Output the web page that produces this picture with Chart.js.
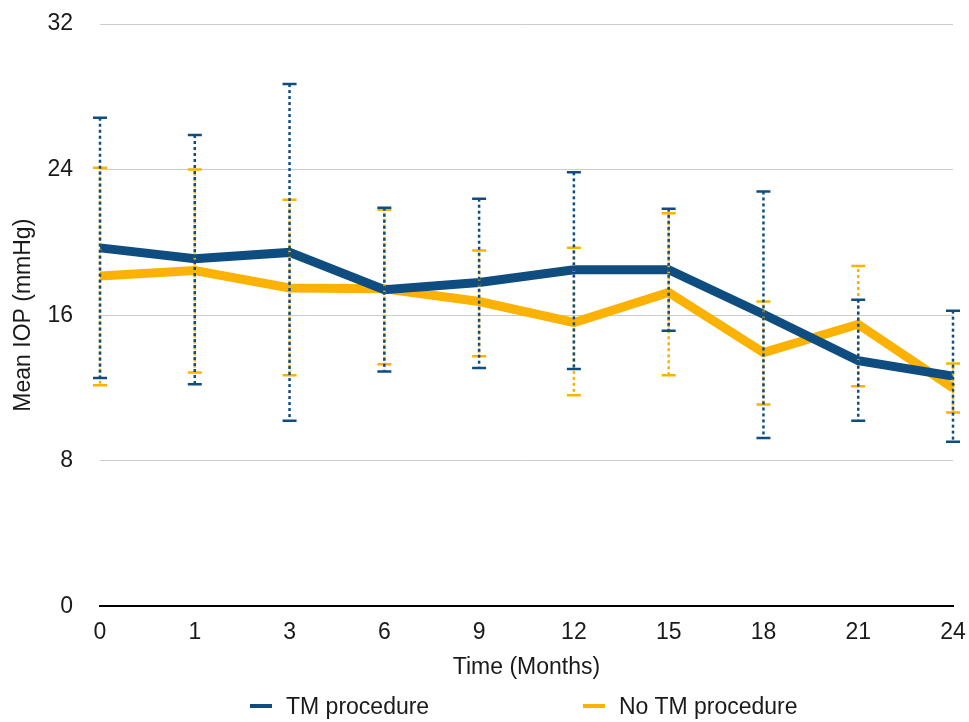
<!DOCTYPE html>
<html>
<head>
<meta charset="utf-8">
<script src="https://cdn.jsdelivr.net/npm/chart.js@4/dist/chart.umd.min.js"></script>
<style>
  body { margin: 0; background: #fff; }
  #wrap { position: relative; width: 969px; height: 722px; }
  #legend { position: absolute; left: 0; top: 692px; width: 969px; height: 28px;
    font-family: "Liberation Sans", Arial, sans-serif; font-size: 23px; color: #1a1a1a; }
  .item { position: absolute; top: 0; line-height: 28px; white-space: nowrap; }
  .swatch { position: absolute; top: 12px; width: 22px; height: 4px; }
</style>
</head>
<body>
<div id="wrap">
  <canvas id="chart"></canvas>
  <div id="legend"></div>
</div>
<script>
// months after baseline
const months = ['0', '1', '3', '6', '9', '12', '15', '18', '21', '24'];

// TM procedure: mean IOP and error bar ends (mmHg)
const tmMean = [19.7, 19.1, 19.45, 17.4, 17.8, 18.5, 18.5, 16.05, 13.5, 12.65];
const tmLow  = [12.55, 12.2, 10.2, 12.9, 13.1, 13.05, 15.15, 9.25, 10.2, 9.05];
const tmHigh = [26.85, 25.9, 28.7, 21.9, 22.4, 23.85, 21.85, 22.8, 16.85, 16.25];

// No TM procedure
const noTmMean = [18.15, 18.45, 17.5, 17.45, 16.75, 15.6, 17.25, 13.95, 15.5, 12.0];
const noTmLow  = [12.15, 12.85, 12.7, 13.3, 13.75, 11.6, 12.7, 11.1, 12.1, 10.65];
const noTmHigh = [24.1, 24.0, 22.35, 21.8, 19.55, 19.7, 21.6, 16.75, 18.7, 13.35];

const yTicks = [0, 8, 16, 24, 32];

const BLUE = '#0f4d81';
const ORANGE = '#fbb202';

Chart.defaults.font.family = '"Liberation Sans", Arial, sans-serif';
Chart.defaults.font.size = 23;
Chart.defaults.color = '#1a1a1a';

// dashed error bars with caps, drawn through the chart's own scales
const errorBars = {
  id: 'errorBars',
  afterDatasetsDraw(chart) {
    const { ctx, scales: { x, y } } = chart;
    const sets = [
      { lo: noTmLow, hi: noTmHigh, color: ORANGE, offset: 3 },
      { lo: tmLow, hi: tmHigh, color: BLUE, offset: 0 }
    ];
    ctx.save();
    sets.forEach(s => {
      ctx.strokeStyle = s.color;
      months.forEach((m, i) => {
        const px = x.getPixelForValue(i);
        const top = y.getPixelForValue(s.hi[i]);
        const bot = y.getPixelForValue(s.lo[i]);
        ctx.lineWidth = 2.5;
        ctx.setLineDash([3, 3]);
        ctx.lineDashOffset = s.offset;
        ctx.beginPath();
        ctx.moveTo(px, top);
        ctx.lineTo(px, bot);
        ctx.stroke();
        ctx.setLineDash([]);
        ctx.beginPath();
        ctx.moveTo(px - 7, top); ctx.lineTo(px + 7, top);
        ctx.moveTo(px - 7, bot); ctx.lineTo(px + 7, bot);
        ctx.stroke();
      });
    });
    ctx.restore();
  }
};

const chart = new Chart(document.getElementById('chart'), {
  type: 'line',
  data: {
    labels: months,
    datasets: [
      { label: 'TM procedure', data: tmMean, borderColor: BLUE, backgroundColor: BLUE,
        borderWidth: 9, pointRadius: 0, tension: 0 },
      { label: 'No TM procedure', data: noTmMean, borderColor: ORANGE, backgroundColor: ORANGE,
        borderWidth: 9, pointRadius: 0, tension: 0 }
    ]
  },
  options: {
    responsive: true,
    maintainAspectRatio: false,
    animation: false,
    layout: { padding: { top: 24, right: 16, bottom: 43, left: 0 } },
    plugins: { legend: { display: false }, tooltip: { enabled: false } },
    scales: {
      x: {
        offset: false,
        afterFit: s => { s.paddingLeft = 0; s.paddingRight = 0; },
        grid: { display: false, drawTicks: false },
        border: { display: true, color: '#000', width: 2 },
        ticks: { padding: 12, maxRotation: 0 },
        title: { display: true, text: 'Time (Months)', font: { lineHeight: 1 },
          padding: { top: -2, bottom: 0 } }
      },
      y: {
        min: 0, max: 32,
        afterFit: s => { s.width = 100; s.paddingTop = 0; s.paddingBottom = 0; },
        afterBuildTicks: s => { s.ticks = yTicks.map(v => ({ value: v })); },
        grid: {
          drawTicks: false,
          color: c => c.tick && c.tick.value === 0 ? '#000' : '#cbcbcb',
          lineWidth: c => c.tick && c.tick.value === 0 ? 2 : 1
        },
        border: { display: false },
        ticks: { padding: 27 },
        title: { display: true, text: 'Mean IOP (mmHg)', padding: { top: 10, bottom: 0 } }
      }
    }
  },
  plugins: [errorBars]
});

// legend below the chart
const legend = document.getElementById('legend');
[
  { text: 'TM procedure', color: BLUE, left: 250 },
  { text: 'No TM procedure', color: ORANGE, left: 583 }
].forEach(it => {
  const sw = document.createElement('div');
  sw.className = 'swatch';
  sw.style.left = it.left + 'px';
  sw.style.background = it.color;
  legend.appendChild(sw);
  const tx = document.createElement('div');
  tx.className = 'item';
  tx.style.left = (it.left + 36) + 'px';
  tx.textContent = it.text;
  legend.appendChild(tx);
});
</script>
</body>
</html>
